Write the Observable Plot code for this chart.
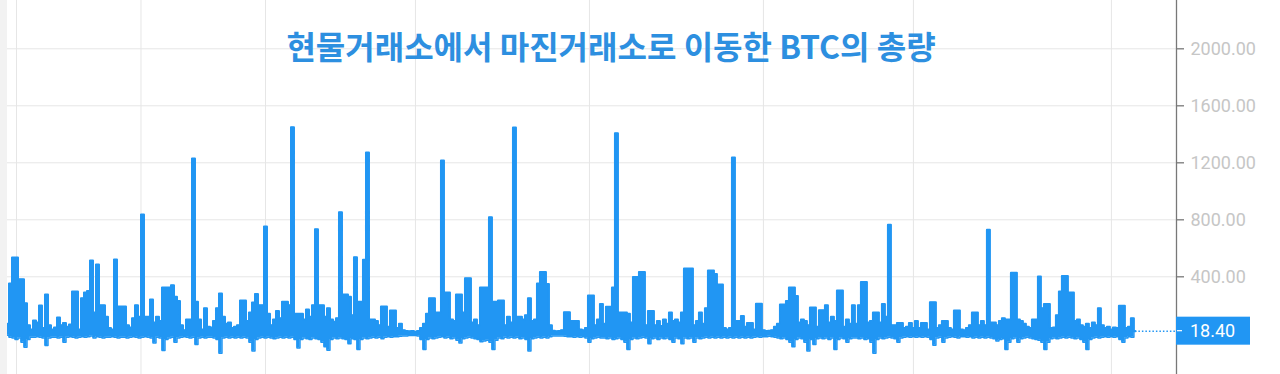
<!DOCTYPE html>
<html>
<head>
<meta charset="utf-8">
<script src="https://cdn.jsdelivr.net/npm/d3@7"></script>
<script src="https://cdn.jsdelivr.net/npm/@observablehq/plot@0.6"></script>
<style>
  html, body { margin: 0; padding: 0; background: #f2f2f2; }
  #chart { margin-left: 7px; width: 1273px; height: 374px; background: #fff; overflow: hidden; }
  #chart svg { display: block; }
  g[aria-label="y-axis tick"] { stroke: #787878; stroke-width: 1.3px; }
  g[aria-label="y-axis tick label"], g[aria-label="y-axis tick label"] text { fill: #c6c6c6; }
</style>
</head>
<body>
<div id="chart"></div>
<script>
// ---- data ----
const title = "현물거래소에서 마진거래소로 이동한 BTC의 총량";

// upper envelope of the flow series (BTC), per period
const hi = [
  70,353,535,535,383,383,215,60,30,93,
  80,198,40,276,60,30,45,115,60,75,
  50,65,297,297,30,250,290,300,514,150,
  486,200,200,120,40,30,521,192,192,192,
  60,45,110,200,120,837,120,120,240,80,
  120,90,325,325,325,340,260,230,60,25,
  100,100,1230,225,100,30,180,50,45,90,
  180,282,120,70,80,40,50,60,233,233,
  90,150,220,280,200,200,753,140,60,100,
  160,110,225,225,200,1450,140,140,140,100,
  170,120,200,733,200,200,120,180,100,85,
  110,853,275,275,260,130,538,225,225,520,
  1272,100,100,90,60,192,192,50,163,163,
  40,70,25,20,18,20,15,20,40,70,
  140,250,250,150,150,1217,290,290,100,90,
  275,275,150,390,390,80,100,60,325,325,
  325,818,225,225,233,233,60,120,80,1447,
  120,120,100,130,250,90,100,353,433,433,
  350,60,22,18,20,25,152,152,90,90,
  90,30,25,40,269,269,60,100,210,70,
  190,190,325,1408,150,150,150,140,80,398,
  398,433,433,60,160,160,60,90,55,100,
  70,150,90,100,80,150,458,458,458,60,
  90,150,70,180,444,444,420,346,346,40,
  30,40,1238,90,90,125,50,75,75,30,
  211,211,25,20,22,25,50,70,205,205,
  230,325,325,265,80,100,90,60,185,185,
  50,165,165,200,80,120,90,304,304,50,
  100,70,200,70,200,363,363,80,90,150,
  150,80,210,120,765,60,60,75,75,40,
  50,75,40,90,40,75,75,30,222,222,
  40,60,90,90,40,30,164,164,30,25,
  40,60,150,150,60,90,60,730,80,80,
  60,90,110,100,100,428,428,100,90,70,
  50,40,100,100,402,180,210,210,40,45,
  130,297,405,405,290,290,90,100,60,50,
  70,40,80,60,180,60,40,50,30,45,
  40,197,197,40,50,110,18.4
];

// lower envelope of the flow series (BTC), per period
const lo = [
  -10,-25,-30,-40,-30,-60,-95,-40,-25,-25,
  -20,-25,-30,-82,-30,-25,-25,-30,-25,-60,
  -25,-20,-25,-30,-25,-20,-25,-20,-15,-30,
  -20,-25,-30,-25,-25,-20,-25,-30,-25,-25,
  -30,-25,-20,-25,-30,-25,-20,-25,-30,-65,
  -25,-30,-117,-40,-30,-25,-60,-30,-25,-20,
  -25,-30,-25,-75,-30,-25,-30,-25,-25,-30,
  -40,-137,-30,-25,-30,-25,-30,-25,-30,-25,
  -30,-60,-120,-40,-30,-25,-30,-25,-30,-35,
  -30,-25,-30,-25,-30,-25,-40,-100,-40,-30,
  -35,-40,-30,-35,-40,-60,-90,-115,-40,-30,
  -35,-30,-35,-40,-70,-35,-40,-110,-40,-30,
  -35,-30,-25,-30,-25,-35,-25,-20,-25,-20,
  -20,-18,-15,-15,-12,-12,-12,-15,-40,-110,
  -40,-30,-35,-30,-25,-20,-30,-25,-35,-30,
  -45,-65,-35,-30,-25,-30,-35,-40,-55,-50,
  -45,-60,-110,-45,-30,-35,-25,-30,-25,-30,
  -25,-35,-30,-40,-120,-35,-30,-25,-30,-25,
  -30,-20,-15,-15,-15,-15,-18,-20,-20,-25,
  -20,-25,-20,-30,-60,-35,-30,-25,-30,-30,
  -35,-30,-40,-35,-30,-40,-60,-110,-40,-30,
  -35,-30,-25,-30,-70,-35,-30,-40,-30,-35,
  -30,-40,-60,-30,-35,-70,-30,-35,-30,-60,
  -30,-35,-30,-25,-30,-25,-30,-25,-30,-25,
  -30,-25,-30,-25,-30,-25,-30,-25,-30,-25,
  -20,-25,-20,-20,-18,-20,-25,-30,-35,-30,
  -40,-60,-90,-40,-30,-35,-60,-120,-40,-75,
  -35,-30,-35,-30,-40,-30,-110,-40,-30,-35,
  -60,-35,-30,-30,-35,-30,-40,-35,-60,-137,
  -40,-30,-35,-30,-25,-30,-35,-60,-30,-25,
  -20,-25,-20,-25,-20,-25,-20,-25,-40,-80,
  -30,-25,-60,-30,-25,-20,-25,-30,-20,-20,
  -25,-20,-30,-25,-30,-25,-30,-25,-30,-35,
  -50,-40,-35,-110,-60,-35,-30,-60,-35,-30,
  -25,-30,-35,-40,-45,-60,-110,-60,-35,-30,
  -35,-30,-25,-30,-25,-30,-35,-30,-40,-60,
  -110,-40,-30,-25,-30,-25,-20,-25,-20,-25,
  -20,-40,-60,-30,-20,-25,18.4
];

// vertical grid positions (period index)
const gridPeriods = [3, 44.5, 86, 136, 194, 252, 302, 368];
// y axis ticks
const yTicks = [400, 800, 1200, 1600, 2000];

// ---- build ----
const blue = "#2196f3";
const series = hi.map((v, i) => ({ i, hi: v, lo: lo[i] }));
const lastIndex = series.length - 1;
const lastValue = hi[lastIndex];
const xDomain = [0, 389.7];

const valueLabel = (index, scales, values, dims) => {
  const y = scales.y(lastValue);
  const x0 = dims.width - dims.marginRight;
  const g = d3.create("svg:g");
  g.append("rect").attr("x", x0).attr("y", y - 14).attr("width", 74).attr("height", 28).attr("fill", blue);
  g.append("line").attr("x1", x0 + 1).attr("x2", x0 + 6).attr("y1", y).attr("y2", y)
    .attr("stroke", "#fff").attr("stroke-width", 1.2);
  g.append("text").attr("x", x0 + 14).attr("y", y).attr("dy", "0.36em")
    .attr("text-anchor", "start")
    .attr("fill", "#fff").style("font-family", "Roboto").style("font-size", "18px")
    .text(lastValue.toFixed(2));
  return g.node();
};

const chart = Plot.plot({
  width: 1273,
  height: 374,
  marginLeft: 0,
  marginRight: 104,
  marginTop: 0,
  marginBottom: 0,
  style: { background: "#fff", fontFamily: "Roboto", fontSize: "18px", overflow: "visible" },
  x: { domain: xDomain, axis: null },
  y: {
    domain: [-285.6, 2339],
    axis: "right",
    ticks: yTicks,
    tickFormat: d => d.toFixed(2),
    tickSize: 7,
    tickPadding: 7,
    label: null
  },
  marks: [
    Plot.ruleX(gridPeriods, { stroke: "#e6e6e6", strokeOpacity: 1, strokeWidth: 1 }),
    Plot.ruleY(yTicks, { stroke: "#e6e6e6", strokeOpacity: 1, strokeWidth: 1 }),
    Plot.text([title], {
      frameAnchor: "top",
      dx: 19,
      dy: 48,
      lineAnchor: "middle",
      fill: "#2d8fe0",
      fontFamily: "Noto Sans CJK KR",
      fontWeight: 700,
      fontSize: 32
    }),
    Plot.areaY(series, { x: "i", y1: "lo", y2: "hi", fill: blue, fillOpacity: 1, curve: "step" }),
    Plot.lineY(series, { x: "i", y: "hi", stroke: blue, strokeWidth: 2, curve: "step" }),
    Plot.lineY(series, { x: "i", y: "lo", stroke: blue, strokeWidth: 1.5, curve: "step" }),
    Plot.ruleY([lastValue], { x1: lastIndex, x2: xDomain[1], stroke: blue, strokeWidth: 1.5, strokeDasharray: "1.5,2" }),
    Plot.ruleX([xDomain[1]], { stroke: "#787878", strokeWidth: 1.3 }),
    valueLabel
  ]
});

document.getElementById("chart").append(chart);
</script>
</body>
</html>
